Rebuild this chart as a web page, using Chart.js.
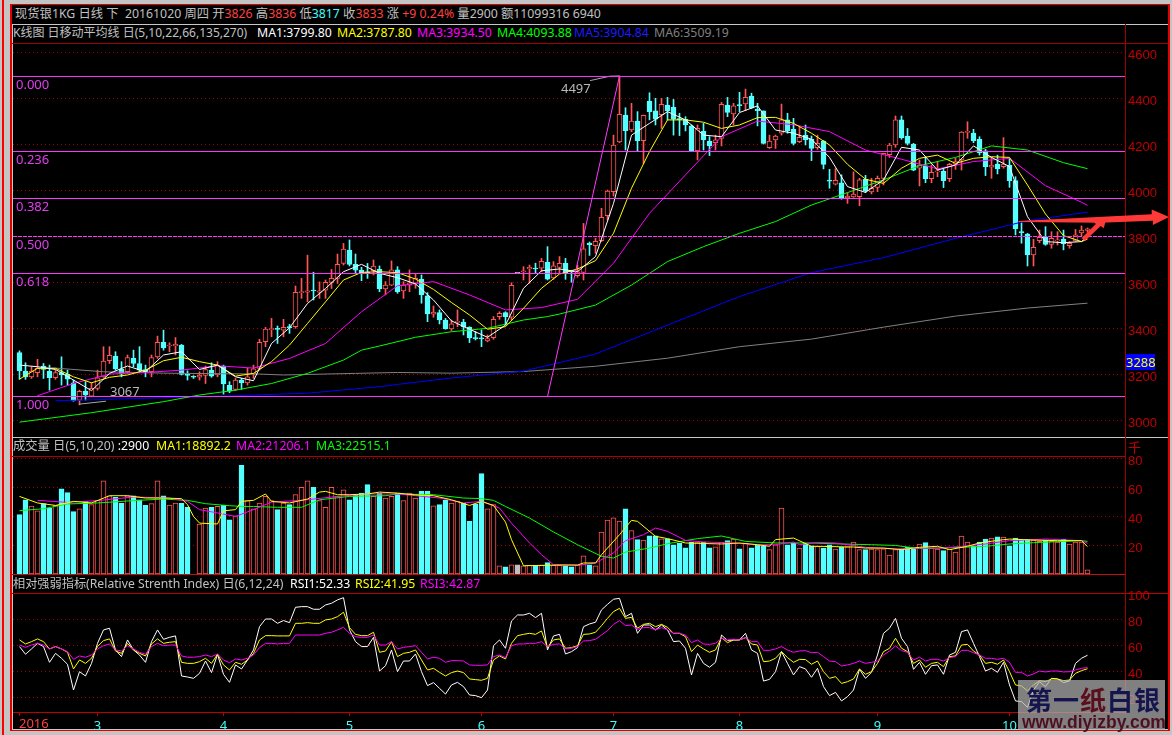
<!DOCTYPE html>
<html>
<head>
<meta charset="utf-8">
<script src="https://cdn.jsdelivr.net/npm/chart.js@4/dist/chart.umd.min.js"></script>
<style>
html, body { margin: 0; padding: 0; background: #c4c4c4; overflow: hidden; }
body { width: 1172px; height: 735px; position: relative; font-family: "Noto Sans", "Noto Sans CJK SC", sans-serif; font-size: 12.3px; }
div, canvas, span.t { position: absolute; }
span.t { white-space: pre; line-height: 16px; }
canvas { display: block; }
#panel { left: 12px; top: 5px; width: 1156px; height: 725px; background: #000; }
.g { color: #c0c0c0; } .w { color: #fff; } .y { color: #ff0; } .m { color: #f0f; } .l { color: #0f0; } .b { color: #1c1cff; } .d { color: #808080; }
.r { color: #ff4040; } .c { color: #40ffff; }
.fib { color: #e23cf0; font-size: 13px; }
.note { color: #b8b8b8; font-size: 13px; }
</style>
</head>
<body>
<div style="left:2px;top:0;width:2px;height:735px;background:#f00"></div>
<div style="left:10px;top:4px;width:1160px;height:727px;background:#e00000"></div>
<div id="panel"></div>
<div style="left:12px;top:24px;width:1156px;height:1px;background:#c8c8c8"></div>
<div style="left:12px;top:24px;width:1px;height:706px;background:#c8c8c8"></div>
<div style="left:12px;top:43px;width:1156px;height:1px;background:#a00000"></div>
<div style="left:12px;top:437px;width:1156px;height:1px;background:#c8c8c8"></div>
<div style="left:12px;top:456px;width:1113px;height:1px;background:#b00000"></div>
<div style="left:12px;top:574px;width:1113px;height:1px;background:#c01010"></div>
<div style="left:12px;top:593px;width:1156px;height:1px;background:#c00000"></div>
<div style="left:12px;top:729px;width:1156px;height:1px;background:#c8c8c8"></div>
<div style="left:1125px;top:24px;width:1px;height:690px;background:#a00000"></div>

<canvas id="priceChart" width="1155" height="394" style="left:13px;top:43px"></canvas>
<canvas id="volumeChart" width="1155" height="127" style="left:13px;top:447px"></canvas>
<canvas id="rsiChart" width="1155" height="147" style="left:13px;top:583px"></canvas>

<span class="t g" style="left:15px;top:6px">现货银1KG 日线 下  20161020 周四 开<span class="r">3826</span> 高<span class="r">3836</span> 低<span class="c">3817</span> 收<span class="r">3833</span> 涨 <span class="r">+9 0.24%</span> 量2900 额11099316 6940</span>
<span class="t g" style="left:13px;top:25px;font-size:12px">K线图 日移动平均线 日(5,10,22,66,135,270)</span>
<span class="t w" style="left:257px;top:25px">MA1:3799.80</span>
<span class="t y" style="left:337px;top:25px">MA2:3787.80</span>
<span class="t m" style="left:417px;top:25px">MA3:3934.50</span>
<span class="t l" style="left:497px;top:25px">MA4:4093.88</span>
<span class="t b" style="left:574px;top:25px">MA5:3904.84</span>
<span class="t d" style="left:654px;top:25px">MA6:3509.19</span>

<span class="t g" style="left:13px;top:438px">成交量 日(5,10,20) <span class="w">:2900</span></span>
<span class="t y" style="left:156px;top:438px">MA1:18892.2</span>
<span class="t m" style="left:236px;top:438px">MA2:21206.1</span>
<span class="t l" style="left:316px;top:438px">MA3:22515.1</span>

<span class="t g" style="left:13px;top:576px;font-size:12.2px">相对强弱指标(Relative Strenth Index) 日(6,12,24)</span>
<span class="t w" style="left:290px;top:576px">RSI1:52.33</span>
<span class="t y" style="left:355px;top:576px">RSI2:41.95</span>
<span class="t m" style="left:420px;top:576px">RSI3:42.87</span>

<span class="t fib" style="left:16px;top:76px">0.000</span>
<span class="t fib" style="left:16px;top:151px">0.236</span>
<span class="t fib" style="left:16px;top:198px">0.382</span>
<span class="t fib" style="left:16px;top:236px">0.500</span>
<span class="t fib" style="left:16px;top:273px">0.618</span>
<span class="t fib" style="left:16px;top:396px">1.000</span>
<span class="t note" style="left:561px;top:80px">4497</span>
<span class="t note" style="left:110px;top:383px">3067</span>

<div style="left:1126px;top:354px;width:29px;height:16px;background:#0000ff;color:#ff0;font-size:13px;line-height:16px;text-align:center">3288</div>
<span class="t" style="left:1128px;top:439px;color:#c00000;font-size:13px">千</span>
<span class="t" style="left:19px;top:715px;color:#ff4040;font-size:13px">2016</span>

<div style="left:1018px;top:680px;width:147px;height:50px;background:rgba(178,178,178,.72)">
  <span class="t" style="left:8px;top:5px;font:bold 26px 'Noto Sans CJK SC';line-height:28px;letter-spacing:1px;color:#14144e">第一<span style="color:#5a0f1e">纸</span>白银</span>
  <span class="t" style="left:4px;top:33px;font:bold 17.5px 'Liberation Sans';line-height:18px;color:#4e0f22">www.diyizby.com</span>
</div>

<script>
// Daily candles, 179 trading days
const priceOpen = [
  3294,3214,3189,3207,3236,3213,3185,3208,3200,3163,
  3088,3126,3105,3139,3189,3259,3279,3223,3211,3269,
  3247,3221,3211,3276,3339,3323,3323,3327,3201,3189,
  3187,3195,3218,3197,3236,3152,3134,3175,3163,3201,
  3226,3342,3394,3400,3392,3407,3407,3555,3557,3566,
  3557,3566,3600,3617,3682,3740,3678,3653,3646,3651,
  3656,3571,3588,3654,3562,3588,3596,3613,3541,3461,
  3468,3436,3397,3426,3427,3404,3358,3359,3345,3359,
  3451,3468,3448,3639,3646,3658,3661,3661,3687,3619,
  3665,3683,3648,3629,3643,3771,3759,3781,3890,3994,
  4210,4327,4262,4301,4216,4388,4346,4329,4371,4361,
  4310,4309,4280,4171,4256,4214,4207,4226,4371,4332,
  4371,4375,4410,4352,4345,4185,4219,4248,4306,4265,
  4211,4239,4222,4185,4214,4043,4027,4032,3967,3971,
  3972,4048,3993,4013,4052,4155,4197,4306,4236,4201,
  4096,4106,4051,4080,4083,4051,4113,4132,4252,4249,
  4222,4172,4101,4114,4103,4109,4042,3819,3810,3719,
  3781,3798,3765,3780,3788,3759,3780,3815,3826]
const priceHigh = [
  3302,3250,3233,3265,3247,3240,3218,3276,3218,3175,
  3131,3168,3163,3218,3320,3320,3298,3255,3284,3305,
  3320,3240,3284,3366,3392,3337,3360,3330,3215,3194,
  3211,3236,3250,3255,3240,3168,3182,3182,3226,3240,
  3352,3404,3443,3410,3439,3417,3584,3617,3718,3644,
  3602,3610,3656,3723,3769,3784,3723,3665,3682,3697,
  3671,3603,3693,3668,3603,3654,3639,3632,3555,3497,
  3480,3443,3436,3480,3439,3407,3385,3393,3371,3451,
  3472,3472,3598,3639,3668,3675,3683,3704,3755,3690,
  3712,3704,3649,3675,3856,3775,3791,3922,4001,4240,
  4497,4359,4378,4342,4327,4424,4400,4400,4404,4395,
  4335,4320,4284,4284,4291,4233,4240,4382,4404,4378,
  4426,4440,4422,4378,4345,4240,4240,4375,4335,4313,
  4277,4284,4236,4240,4216,4091,4094,4067,3990,4080,
  4052,4065,4052,4062,4161,4204,4323,4323,4269,4204,
  4132,4146,4110,4125,4091,4117,4139,4255,4298,4265,
  4233,4178,4143,4153,4229,4139,4059,3859,3813,3787,
  3827,3842,3820,3820,3827,3777,3830,3845,3836]
const priceLow = [
  3178,3178,3182,3189,3182,3131,3178,3153,3153,3083,
  3067,3088,3102,3131,3187,3247,3218,3189,3204,3233,
  3211,3189,3189,3269,3305,3298,3284,3197,3175,3182,
  3175,3160,3187,3189,3114,3120,3129,3134,3153,3182,
  3218,3320,3363,3334,3363,3378,3400,3530,3515,3523,
  3530,3530,3573,3595,3675,3671,3642,3607,3617,3632,
  3559,3545,3586,3552,3530,3559,3574,3509,3429,3448,
  3419,3396,3390,3407,3371,3338,3349,3320,3341,3352,
  3439,3414,3436,3639,3610,3596,3639,3646,3610,3613,
  3639,3613,3600,3622,3610,3717,3726,3777,3871,3975,
  4207,4175,4255,4168,4117,4306,4284,4269,4306,4240,
  4238,4258,4168,4132,4175,4151,4175,4193,4320,4284,
  4342,4346,4356,4280,4201,4182,4182,4240,4248,4197,
  4207,4197,4129,4178,4093,4009,4023,3961,3943,3969,
  3933,3990,3984,3994,4023,4143,4187,4222,4197,4085,
  4019,4033,4033,4059,4012,4038,4091,4088,4226,4207,
  4153,4064,4052,4071,4096,4013,3806,3770,3671,3671,
  3772,3761,3748,3762,3741,3748,3777,3801,3817]
const priceClose = [
  3215,3189,3214,3226,3221,3185,3207,3197,3179,3085,
  3126,3110,3139,3185,3258,3282,3223,3201,3273,3247,
  3218,3208,3273,3339,3315,3327,3331,3200,3195,3187,
  3197,3221,3192,3240,3158,3127,3175,3163,3189,3224,
  3339,3397,3398,3395,3404,3402,3556,3559,3563,3562,
  3563,3600,3617,3678,3744,3678,3653,3639,3639,3671,
  3571,3588,3654,3559,3588,3598,3617,3545,3462,3471,
  3436,3397,3419,3429,3407,3358,3355,3354,3355,3439,
  3465,3451,3587,3639,3649,3665,3658,3691,3614,3672,
  3683,3639,3645,3645,3745,3764,3778,3883,3997,4197,
  4330,4259,4301,4216,4326,4342,4309,4374,4346,4309,
  4307,4284,4171,4269,4219,4193,4219,4374,4339,4367,
  4368,4404,4359,4346,4204,4214,4236,4306,4258,4204,
  4230,4219,4182,4204,4113,4040,4043,3964,3975,3984,
  4045,3997,4009,4052,4161,4197,4306,4229,4204,4088,
  4110,4051,4078,4084,4042,4113,4125,4253,4256,4216,
  4164,4103,4109,4093,4114,4042,3832,3816,3719,3752,
  3796,3765,3791,3784,3768,3769,3806,3827,3833]

// Moving averages, sampled at the bar numbers in the *Days lists
const ma1Days = [0,3,6,9,12,15,18,21,24,27,30,33,36,39,42,45,48,51,54,57,60,63,66,69,72,75,78,81,84,87,90,93,96,99,102,105,108,111,114,117,120,123,126,129,132,135,138,141,144,147,150,153,156,159,162,165,168,171,174,177,178]
const ma1 = [3240,3233,3221,3175,3129,3204,3236,3211,3284,3298,3221,3240,3189,3172,3334,3402,3508,3573,3646,3678,3639,3620,3593,3523,3432,3396,3361,3414,3574,3650,3658,3646,3712,3943,4240,4291,4342,4306,4240,4233,4338,4367,4262,4248,4222,4143,4016,3991,4045,4187,4175,4088,4110,4193,4143,4103,3885,3777,3772,3777,3799.8]
const ma2 = [3179,3226,3226,3189,3163,3187,3197,3218,3259,3274,3255,3240,3192,3204,3255,3327,3421,3515,3610,3643,3646,3642,3614,3569,3512,3458,3396,3407,3487,3574,3636,3658,3694,3813,4009,4168,4306,4306,4296,4269,4284,4316,4317,4291,4248,4197,4113,4048,4030,4096,4139,4153,4117,4139,4146,4143,4023,3897,3803,3777,3787.8]
const ma3Days = [3,9,15,21,27,33,39,45,51,57,63,69,75,81,87,93,99,105,111,117,123,129,135,141,147,153,159,165,171,177,178]
const ma3 = [3107,3160,3201,3208,3218,3237,3227,3269,3334,3472,3585,3603,3545,3480,3490,3526,3683,3900,4067,4233,4301,4285,4255,4175,4135,4093,4125,4139,4020,3948,3934.5]
const ma4Days = [0,12,24,30,36,42,48,54,57,60,66,72,78,84,88,90,96,102,108,114,120,126,132,138,144,150,156,162,168,174,178]
const ma4 = [2992,3033,3081,3110,3131,3160,3204,3262,3305,3323,3361,3385,3400,3436,3451,3462,3501,3588,3690,3755,3813,3864,3936,3990,4045,4107,4143,4193,4175,4120,4093.88]
const ma5Days = [6,12,24,36,48,60,63,72,84,96,108,120,132,144,156,168,178]
const ma5 = [3085,3089,3098,3107,3118,3146,3156,3184,3214,3288,3414,3538,3642,3707,3791,3868,3904.84]
const ma6Days = [4,6,14,24,40,44,56,63,72,84,96,108,120,132,144,156,168,178]
const ma6 = [3227,3227,3211,3205,3201,3197,3204,3208,3205,3212,3235,3270,3320,3353,3405,3453,3488,3509.19]

// Fibonacci retracement drawn on the chart
const fibLevels = [4495,4168.7,3964.3,3638.3,3103.5]
const fibMiddle = 3799.1
const fibTrendDays = [88,100]
const fibTrend = [3103.5,4497]
const highLeaderDays = [95.1,98.4,100]
const highLeader = [4477,4496,4497]
const lowLeaderDays = [9.9,14.4]
const lowLeader = [3070,3083]

// Hand drawn red arrows, in bar number and price
const arrowDays = [166.5,188.7,188.7,191.6,188.9,188.9,180.1,166.5]
const arrowPrices = [3867,3896,3917,3884,3849,3868,3859,3862]
const arrow2Days = [177,179.4,178.97,181.1,180.7,180.2,177.6]
const arrow2Prices = [3791,3854,3864,3871,3835,3845,3781]

// Volume in thousands
const volume = [
  40.9,51.2,46.9,43.6,48.5,45.5,47.3,58.8,56.1,43,
  45,50.1,47.8,51,64.3,54,52.8,48.7,54,54,
  51.2,47.3,48.5,64.3,54,47.6,49,48.7,46,0,
  34.5,45.5,46,46.6,47.3,37.4,40.2,74.9,50.6,45,
  49,53.5,50.6,44.4,49,47.8,54.7,59.7,64.3,59.7,
  50.6,46,59.7,53.5,58.1,51.2,54.7,55.8,61.6,53.5,
  55.8,52.4,53.5,55.8,50.6,55.8,52.4,57,57,47.1,
  47.8,50.8,49,50.1,49,36.3,48.3,69.2,45,47.8,
  5.7,5,6.4,6.4,5.7,6,6,6,7.8,6,
  6,5.7,5,6,12.6,6.4,5.7,29,37.2,38.8,
  36.5,45,29.9,23.7,23.4,26.4,26.4,24.3,24.3,20.2,
  21.1,18.1,22.1,22.1,22.1,18.1,18.8,22.1,23,24.1,
  17.4,21.4,18.1,20.2,19.5,16.8,20.2,45.5,20.2,21.4,
  17.9,21.4,19.5,19.1,17.9,20.2,17.2,18.4,18.8,22.1,
  16.8,16.8,17.2,16.8,17.4,13.1,16.8,17.4,18.6,17.2,
  20.7,21.6,17.9,17.2,16.1,17.2,15.2,26.2,22.1,19.5,
  22.1,24.1,24.8,25.7,25.5,19.5,24.8,23.4,23.9,23.4,
  22.5,23.4,22.5,22.1,24.1,20.7,22.1,22.1,2.9]
const volMa1Days = [0,3,6,9,12,15,18,21,24,27,28,29,30,33,34,36,37,39,41,42,45,48,50,51,53,55,58,60,63,66,69,72,75,77,79,81,82,84,90,93,94,96,97,100,102,103,106,108,111,117,120,123,125,126,129,132,133,139,141,144,147,150,153,155,158,160,163,165,169,173,177,178]
const volMa1 = [53.5,49,47.3,50.1,49,54,54,52.4,52.4,52,47.8,39.7,35.1,34.5,43.6,44.4,50.1,50.8,55.2,50.1,49,51.7,56.5,57,54.7,54.7,55.2,56.5,55.8,54.5,54,51.2,47.3,50.1,47.3,35.8,23.7,5.7,6.2,6.2,7.6,7.6,13.3,27.1,37,36.3,26,24.4,21.4,20.7,21.4,20.2,19.1,23.7,24.8,19.1,19.1,18.6,17.9,17.9,16.8,18.4,19.1,16.8,19.1,21.4,23.2,24.1,23.4,23,23,18.9]
const volMa2Days = [3,8,13,19,25,28,30,33,36,39,42,47,53,58,63,66,70,74,77,80,82,85,87,89,93,96,99,101,104,106,108,111,114,119,123,126,129,130,133,136,141,146,150,154,157,161,165,171,177,178]
const volMa2 = [50.8,49.4,50.6,53.1,52.4,50.1,44.4,42.1,39.7,44.4,49.6,50.8,53.5,55.2,55.2,54,52.4,49,50.1,45.5,35.1,21.4,13.3,6.4,6,7.6,14.5,23,27.1,31.7,29.4,23.2,22.1,21.4,20.2,20.2,22.1,20.2,21.8,21.4,18.4,17.2,17.9,17.9,19.1,20.7,23,24.1,23,21.2]
const volMa3Days = [0,4,8,13,19,24,28,31,35,37,39,43,47,50,55,61,63,69,74,77,79,81,85,89,93,97,99,101,105,108,113,117,121,126,130,132,137,142,146,150,157,161,165,169,177,178]
const volMa3 = [43.7,45,48.3,49,50.6,51.7,50.8,48.5,47.1,46.6,46.6,46,46,51.2,53.5,54,55.2,54.7,52.4,52,50.8,46.6,38.6,29,20.2,12.2,11,15.1,17.9,20.9,24.4,26.2,22.5,21.4,21.4,21.4,20.7,20.2,19.7,17.5,18.4,19.1,20.7,21.6,23,22.5]

// RSI
const rsi1 = [
  59.0,53.1,57.2,61.5,59.0,46.9,53.8,50.0,45.4,25.6,
  39.7,36.4,46.1,61.5,71.8,73.1,56.4,51.3,64.1,56.4,
  52.5,46.9,62.8,71.8,64.6,66.1,67.2,36.4,35.6,34.6,
  38.4,47.9,39.0,53.1,37.7,31.5,44.9,41.8,48.7,56.4,
  74.3,80.2,80.2,76.9,79.0,77.4,89.2,89.7,89.7,87.7,
  87.7,91.0,92.3,94.9,96.6,71.8,62.8,59.0,59.0,66.1,
  40.2,44.3,56.4,39.7,47.9,47.9,53.3,39.7,29.0,31.3,
  26.9,22.5,29.5,31.5,28.2,21.8,21.3,19.7,25.6,59.7,
  64.1,57.7,78.7,83.3,83.3,84.6,81.3,84.6,56.4,67.2,
  68.4,53.3,55.1,58.2,74.3,76.4,77.7,87.2,91.5,95.4,
  96.1,82.0,84.6,69.2,75.6,75.6,71.8,75.6,71.8,62.8,
  63.3,57.7,37.2,53.8,46.1,43.1,46.9,67.9,63.6,64.1,
  64.1,69.2,56.4,53.8,32.5,33.8,39.7,55.1,46.1,37.2,
  43.6,41.8,35.4,42.3,28.2,21.3,23.8,17.2,20.5,25.6,
  41.5,34.6,39.2,52.5,69.2,73.1,80.7,65.4,59.0,41.5,
  46.9,37.7,44.3,44.9,37.7,52.5,54.6,70.5,71.8,61.5,
  51.3,40.2,42.3,39.2,46.9,29.5,17.2,16.7,12.3,25.6,
  32.0,28.2,34.6,34.1,31.3,32.5,46.1,50.0,52.33]
const rsi2 = [
  64.1,61.0,62.8,64.9,62.8,57.2,59.0,57.2,54.6,41.8,
  48.7,46.1,50.0,59.0,63.6,64.9,55.6,53.8,61.5,56.4,
  53.8,51.8,61.0,64.9,61.5,62.3,62.8,46.9,46.1,46.1,
  47.4,50.0,46.1,53.1,44.9,41.0,46.9,45.4,48.7,53.8,
  64.1,67.4,67.4,67.2,67.2,67.2,76.9,76.9,77.4,76.9,
  76.9,79.5,80.2,82.0,85.4,73.6,68.4,67.4,67.4,70.0,
  54.6,55.6,62.8,51.3,53.8,54.6,56.4,48.7,41.0,42.3,
  39.2,36.4,39.0,40.2,39.0,34.1,33.6,33.1,34.6,48.7,
  51.8,49.5,61.5,67.4,68.4,69.2,68.4,71.0,58.2,64.1,
  64.9,57.7,58.2,59.7,68.4,68.7,70.0,75.1,80.7,85.9,
  88.4,80.7,81.5,73.1,76.1,76.9,74.3,76.1,73.8,69.2,
  69.2,66.6,55.1,60.2,57.2,54.6,56.4,65.9,62.0,64.1,
  64.1,65.9,61.0,60.2,47.4,47.9,50.0,55.1,50.5,46.9,
  49.2,49.0,45.4,47.9,39.7,34.6,35.9,30.7,32.0,34.1,
  41.8,37.7,39.7,46.1,55.1,57.7,65.4,57.7,55.1,46.1,
  48.7,43.1,46.1,46.9,43.6,51.3,51.8,60.2,60.7,55.6,
  52.5,46.1,46.9,45.4,48.7,39.7,29.5,28.7,24.9,29.5,
  32.8,32.0,34.1,34.1,32.8,33.3,38.4,40.5,41.95]
const rsi3 = [
  60.2,58.4,60.2,61.5,60.2,57.2,59.0,57.2,55.1,49.2,
  51.8,50.8,52.5,57.2,59.7,61.0,56.4,55.6,59.7,57.2,
  54.6,53.1,59.0,61.5,59.7,60.2,60.2,51.8,50.8,50.8,
  51.3,52.5,51.3,53.3,48.7,46.6,49.5,48.7,50.0,52.5,
  58.2,61.5,61.5,61.0,61.5,61.5,67.9,67.9,67.9,67.9,
  67.9,69.2,70.0,71.8,73.8,69.2,66.6,66.1,66.1,67.9,
  60.2,60.2,62.8,57.2,58.4,59.0,59.7,54.6,49.5,50.8,
  50.0,46.9,48.2,48.2,47.9,44.9,44.6,44.6,44.9,51.3,
  52.5,50.5,59.7,61.0,61.0,61.5,61.5,62.8,59.0,60.7,
  61.0,57.2,57.7,59.0,63.3,63.6,64.6,67.9,71.3,76.1,
  79.0,75.1,75.6,72.3,73.6,73.6,71.8,73.6,71.8,69.2,
  69.2,67.9,62.0,64.1,61.0,60.7,61.5,65.4,64.1,64.6,
  64.1,65.9,62.8,62.8,56.1,56.1,57.2,59.0,56.4,54.6,
  55.6,55.9,54.3,54.6,51.3,47.9,47.4,44.1,44.9,46.1,
  47.9,46.1,46.9,47.9,52.5,55.6,59.5,55.9,54.6,48.7,
  50.8,47.9,49.2,49.2,47.9,50.5,51.3,56.1,56.1,54.3,
  52.5,50.0,50.0,49.2,50.0,46.9,39.2,39.2,36.4,38.0,
  40.2,39.5,40.2,40.2,39.5,39.7,41.0,42.3,42.87]

// Axis ticks
const priceTicks = [3000,3200,3400,3600,3800,4000,4200,4400,4600]
const volumeTicks = [20,40,60,80]
const rsiTicks = [20,40,60,80,100]
const monthDays = [0,13,34,55,77,99,120,143,165]
const monthLabels = ['','3','4','5','6','7','8','9','10']

const days = priceOpen.map((_, i) => i)

const RED = '#ff5555'
const CYAN = '#55ffff'
const GRID = '#a00000'
const AXIS_TEXT = '#c00000'
const X_MIN = -6.5 / 6
const X_MAX = X_MIN + 1112 / 6

const pts = (xs, ys) => xs.map((x, i) => ({ x, y: ys[i] }))
const isUp = i => priceClose[i] > priceOpen[i]
const isFlat = i => priceClose[i] === priceOpen[i]
const barFill = i => isFlat(i) ? '#c0c0c0' : isUp(i) ? '#000' : CYAN
const barEdge = i => isFlat(i) ? '#c0c0c0' : isUp(i) ? RED : CYAN

function lineSet (data, color, order, extra) {
  return Object.assign({ type: 'line', data, borderColor: color, borderWidth: 1, pointRadius: 0, tension: 0, order }, extra)
}

function yScale (min, max, ticks) {
  return {
    position: 'right', min, max,
    afterFit: s => { s.width = 43; s.paddingTop = 0; s.paddingBottom = 0 },
    afterBuildTicks: s => { s.ticks = ticks.map(value => ({ value })) },
    grid: { color: GRID, drawTicks: false, lineWidth: 1 },
    border: { color: GRID, dash: [1, 3], display: true },
    ticks: { color: AXIS_TEXT, padding: 3, labelOffset: 3, font: { family: 'Liberation Sans', size: 13 }, callback: v => String(v) }
  }
}

// the lower two canvases start 10px above their plot so the top tick label is not cut off
function baseOptions (y, top) {
  return {
    responsive: false, animation: false,
    devicePixelRatio: 1,
    layout: { padding: { top } },
    plugins: { legend: { display: false }, tooltip: { enabled: false } },
    scales: { x: { type: 'linear', min: X_MIN, max: X_MAX, offset: false, display: false }, y }
  }
}

const arrowPlugin = {
  id: 'arrows',
  afterDatasetsDraw (chart) {
    const { ctx, scales } = chart
    ctx.save()
    ctx.fillStyle = '#ff3838'
    ;[[arrowDays, arrowPrices], [arrow2Days, arrow2Prices]].forEach(([xs, ys]) => {
      ctx.beginPath()
      xs.forEach((x, i) => ctx.lineTo(scales.x.getPixelForValue(x), scales.y.getPixelForValue(ys[i])))
      ctx.closePath()
      ctx.fill()
    })
    ctx.restore()
  }
}

new Chart(document.getElementById('priceChart'), {
  data: {
    datasets: [
      ...fibLevels.map(v => lineSet(pts([X_MIN, X_MAX], [v, v]), '#ff38ff', 1)),
      lineSet(pts([X_MIN, X_MAX], [fibMiddle, fibMiddle]), '#ff38ff', 1, { borderDash: [4, 1] }),
      lineSet(pts(fibTrendDays, fibTrend), '#ff38ff', 1),
      lineSet(pts(highLeaderDays, highLeader), '#a8a8a8', 1),
      lineSet(pts(lowLeaderDays, lowLeader), '#a8a8a8', 1),
      lineSet(pts(ma1Days, ma1), '#ffffff', 2),
      lineSet(pts(ma1Days, ma2), '#ffff00', 3),
      lineSet(pts(ma3Days, ma3), '#ff00ff', 4),
      lineSet(pts(ma4Days, ma4), '#00ff00', 5),
      lineSet(pts(ma5Days, ma5), '#0000ff', 6),
      lineSet(pts(ma6Days, ma6), '#808080', 7),
      {
        type: 'bar', order: 8, grouped: false, barThickness: 5, borderWidth: 1, borderSkipped: false, minBarLength: 1,
        data: days.map(i => ({ x: i, y: [priceOpen[i], priceClose[i]] })),
        backgroundColor: days.map(barFill),
        borderColor: days.map(barEdge)
      },
      {
        type: 'bar', order: 9, grouped: false, barThickness: 1,
        data: days.map(i => ({ x: i, y: [priceLow[i], priceHigh[i]] })),
        backgroundColor: days.map(barEdge)
      }
    ]
  },
  options: baseOptions(yScale(2927.4, 4640.4, priceTicks), 0),
  plugins: [arrowPlugin]
})

new Chart(document.getElementById('volumeChart'), {
  data: {
    datasets: [
      lineSet(pts(volMa1Days, volMa1), '#ffff00', 1),
      lineSet(pts(volMa2Days, volMa2), '#ff00ff', 2),
      lineSet(pts(volMa3Days, volMa3), '#00ff00', 3),
      {
        type: 'bar', order: 4, grouped: false, barThickness: 5, borderWidth: 1, borderSkipped: false,
        data: pts(days, volume),
        backgroundColor: days.map(barFill),
        borderColor: days.map(barEdge)
      }
    ]
  },
  options: baseOptions(yScale(0, 80.7, volumeTicks), 10)
})

const rsiOptions = baseOptions(yScale(8.7, 100.2, rsiTicks), 10)
rsiOptions.scales.x = {
  type: 'linear', min: X_MIN, max: X_MAX, offset: false,
  afterFit: s => { s.height = 18; s.paddingLeft = 0; s.paddingRight = 0 },
  afterBuildTicks: s => { s.ticks = monthDays.map(value => ({ value })) },
  grid: { drawOnChartArea: false, color: '#c00000', tickLength: 4 },
  border: { color: '#c00000' },
  ticks: {
    color: '#40ffff', padding: 2, maxRotation: 0, autoSkip: false, font: { family: 'Noto Sans', size: 13 },
    callback: v => monthLabels[monthDays.indexOf(v)]
  }
}
new Chart(document.getElementById('rsiChart'), {
  data: {
    datasets: [
      lineSet(pts(days, rsi3), '#ff00ff', 1),
      lineSet(pts(days, rsi2), '#ffff00', 2),
      lineSet(pts(days, rsi1), '#ffffff', 3)
    ]
  },
  options: rsiOptions
})
</script>
</body>
</html>
